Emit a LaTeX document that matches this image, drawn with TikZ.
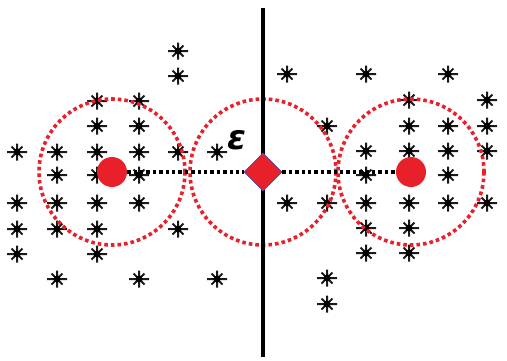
\documentclass[tikz,border=0pt]{standalone}
\usepackage{fontspec}
\newfontfamily\epsfont{DejaVu Sans}
\definecolor{dred}{HTML}{E8202A}
\definecolor{dgray}{HTML}{1A1A1A}
\tikzset{
  ring/.style={draw=dred, line width=3.6pt, dash pattern=on 3.6pt off 3pt},
  link/.style={draw=black, line width=3.4pt, dash pattern=on 3.4pt off 3pt},
  dotpt/.style={circle, fill=dred, inner sep=0pt, minimum size=30pt},
  query/.style={diamond, fill=dred, draw=blue!40!gray, line width=0.6pt, inner sep=0pt, minimum size=38pt},
  star/.pic={
    \draw[dgray, line width=2pt] (-10,0) -- (10,0) (0,-8.5) -- (0,8.5) (-5.5,-5.5) -- (5.5,5.5) (-5.5,5.5) -- (5.5,-5.5);
    \fill[black] (0,0) circle (3.5);
  }
}
\usetikzlibrary{shapes.geometric}
\begin{document}
\begin{tikzpicture}[x=1pt, y=-1pt]
\useasboundingbox (0,0) rectangle (507,360);
% asterisks
\foreach \p in {
 (178,51),(178,76),(97,101),(139,101),(97,126),(139,126),
 (17,152),(57,152),(97,152),(139,152),(178,152),(217,152),
 (57,175),(97,175),(139,175),
 (17,203),(57,203),(97,203),(139,203),
 (17,229),(57,229),(97,229),(178,229),
 (17,254),(97,254),
 (57,279),(139,279),(217,279),
 (287,74),(366,74),(448,74),
 (409,100),(487,100),
 (327,126),(409,126),(448,126),(487,126),
 (366,151),(409,151),(448,151),(487,151),
 (366,175),(409,175),(448,175),
 (287,203),(327,203),(366,203),(409,203),(448,203),(487,203),
 (366,228),(409,228),
 (366,253),(409,253),
 (327,278),(327,304)}
 { \pic at \p {star}; }
% circles
\coordinate (cl) at (112,172);
\coordinate (cm) at (263,172);
\coordinate (cr) at (411,172);
\draw[ring] (cl) circle (73);
\draw[ring] (cm) circle (73);
\draw[ring] (cr) circle (73);
% vertical line
\coordinate (vt) at (263,8);
\coordinate (vb) at (263,357);
\draw[line width=3.4pt] (vt) -- (vb);
% nodes
\node[dotpt] (a) at (cl) {};
\node[dotpt] (b) at (cr) {};
\node[query] (q) at (cm) {};
\draw[link] (a.east) -- (q.west);
\draw[link] (q.east) -- (b.west);
\node[font=\epsfont\bfseries\itshape\fontsize{34}{34}\selectfont, inner sep=0pt] (eps) at (237,140) {ε};
\end{tikzpicture}
\end{document}
